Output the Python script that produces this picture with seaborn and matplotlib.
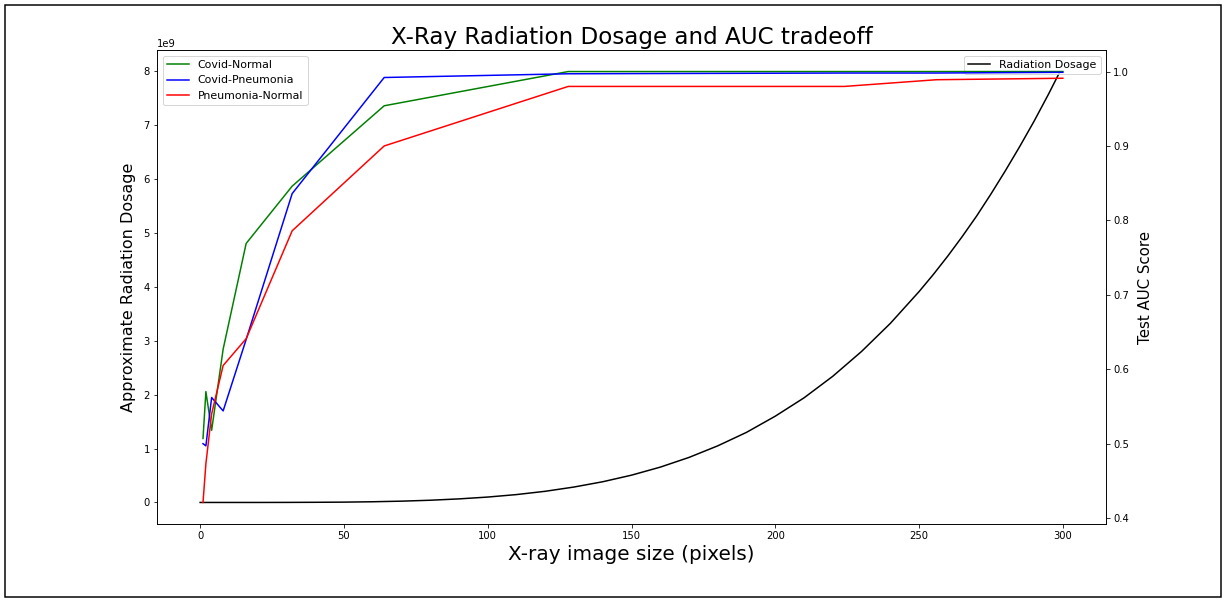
"""
plot.py — X-ray radiation dosage vs. test AUC tradeoff (twin y axes).
"""

import matplotlib
matplotlib.use("Agg")
import matplotlib.pyplot as plt
from matplotlib.patches import Rectangle
import seaborn as sns
import pandas as pd

DPI = 72

# ── Data ──────────────────────────────────────────────────────────────────────

image_sizes = [1, 2, 4, 8, 16, 32, 64, 128, 224, 256, 300]

covid_normal = [0.507, 0.570, 0.518, 0.627, 0.769, 0.846, 0.954,
                1.000, 1.000, 1.000, 1.000]
covid_pneumonia = [0.500, 0.497, 0.562, 0.544, 0.640, 0.836, 0.992,
                   0.997, 0.998, 0.998, 0.999]
pneumonia_normal = [0.421, 0.473, 0.540, 0.605, 0.641, 0.786, 0.900,
                    0.980, 0.980, 0.989, 0.991]

dose_sizes = [0, 10, 20, 30, 40, 50, 60, 70, 80, 90, 100, 110, 120, 130, 140,
              150, 160, 170, 180, 190, 200, 210, 220, 230, 240, 250, 255, 260,
              265, 270, 275, 280, 285, 290, 295, 299]
dose_1e9 = [0.0, 0.0, 0.0, 0.001, 0.003, 0.006, 0.013, 0.024, 0.041, 0.066,
            0.100, 0.146, 0.207, 0.286, 0.384, 0.506, 0.655, 0.835, 1.05,
            1.30, 1.60, 1.94, 2.34, 2.80, 3.32, 3.91, 4.23, 4.57, 4.93, 5.31,
            5.72, 6.15, 6.60, 7.07, 7.57, 7.99]

auc_df = pd.DataFrame({
    "size": image_sizes,
    "Covid-Normal": covid_normal,
    "Covid-Pneumonia": covid_pneumonia,
    "Pneumonia-Normal": pneumonia_normal,
})
dose_df = pd.DataFrame({"size": dose_sizes,
                        "dose": [d * 1e9 for d in dose_1e9]})

# ── Figure ────────────────────────────────────────────────────────────────────

fig = plt.figure(figsize=(1225 / DPI, 601 / DPI), dpi=DPI)
ax = fig.add_axes([157 / 1225, 77 / 601, 949 / 1225, 474 / 601])

sns.lineplot(data=dose_df, x="size", y="dose", ax=ax, color="black",
             linewidth=1.5, label="Radiation Dosage")
ax.set_xlabel("X-ray image size (pixels)", fontsize=20)
ax.set_ylabel("Approximate Radiation Dosage", fontsize=16, labelpad=8)
ax.legend(loc="upper right", fontsize=11)

ax2 = ax.twinx()
for name, color in [("Covid-Normal", "green"),
                    ("Covid-Pneumonia", "blue"),
                    ("Pneumonia-Normal", "red")]:
    sns.lineplot(data=auc_df, x="size", y=name, ax=ax2, color=color,
                 linewidth=1.5, label=name)
ax2.set_ylabel("Test AUC Score", fontsize=15, labelpad=9)
ax2.legend(loc="upper left", fontsize=11)

ax.set_title("X-Ray Radiation Dosage and AUC tradeoff", fontsize=23)

# screenshot frame
fig.patches.append(Rectangle((0.004, 0.0067), 0.9927, 0.985, transform=fig.transFigure,
                             fill=False, edgecolor="black", linewidth=1.5))

fig.savefig("out.png", dpi=DPI)
